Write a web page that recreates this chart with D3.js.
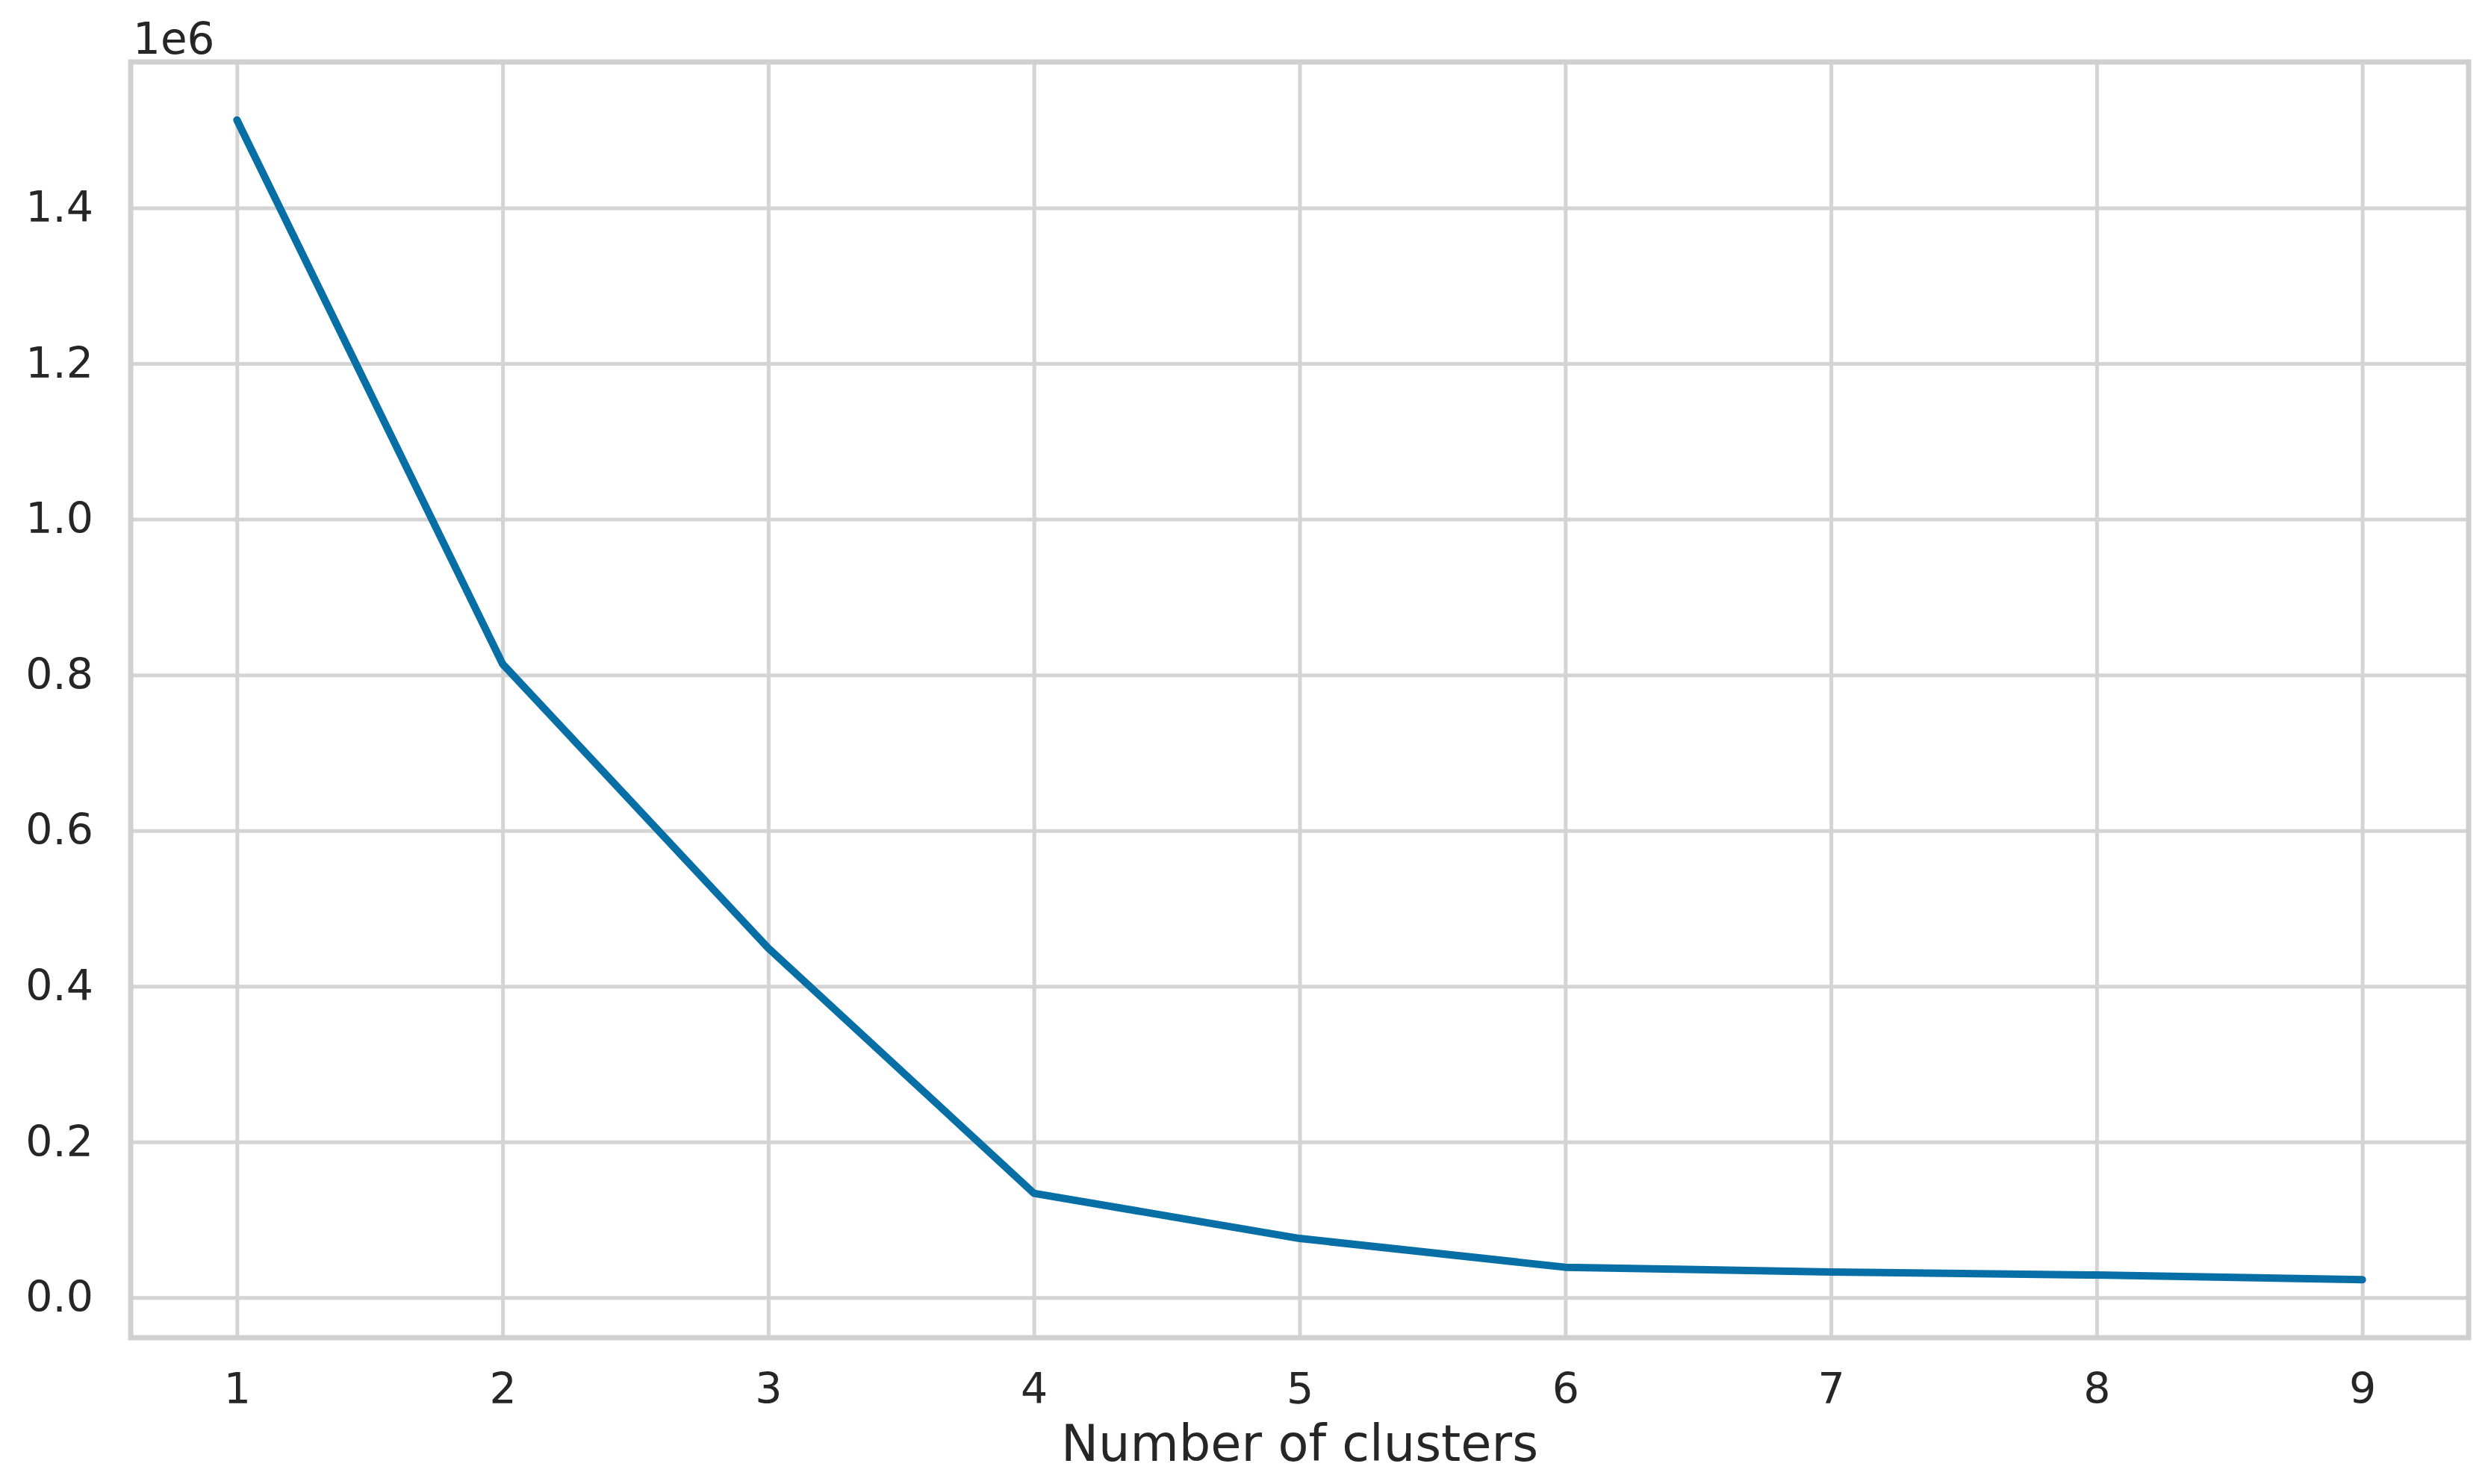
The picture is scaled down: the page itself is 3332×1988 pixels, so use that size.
<!DOCTYPE html>
<head>
  <meta charset="utf-8">
  <script src="https://d3js.org/d3.v7.min.js"></script>
  <style>
    body { margin:0; background:#fff; }
    svg { display:block; }
    text { font-family:"DejaVu Sans", sans-serif; fill:#262626; }
    .grid line { stroke:#d4d4d4; stroke-width:5; }
  </style>
</head>

<body>
  <script>
    // elbow curve: inertia per number of clusters
    var clusters = [1, 2, 3, 4, 5, 6, 7, 8, 9],
        inertia = [1513000, 814000, 449000, 134000, 76000, 39000, 33000, 29000, 23000],
        yTicks = [0, 200000, 400000, 600000, 800000, 1000000, 1200000, 1400000],
        xLabel = "Number of clusters",
        offsetLabel = "1e6";

    var width = 3332, height = 1988,
        plotLeft = 175, plotRight = 3306, plotTop = 83, plotBottom = 1792;

    var svg = d3.select("body").append("svg")
        .attr("width", width)
        .attr("height", height);

    // 5% margins on both axes, like matplotlib
    var xpad = (d3.max(clusters) - d3.min(clusters)) * 0.05,
        ypad = (d3.max(inertia) - d3.min(inertia)) * 0.05;

    var x = d3.scaleLinear()
        .domain([d3.min(clusters) - xpad, d3.max(clusters) + xpad])
        .range([plotLeft, plotRight]);

    var y = d3.scaleLinear()
        .domain([d3.min(inertia) - ypad, d3.max(inertia) + ypad])
        .range([plotBottom, plotTop]);

    var gx = svg.append("g")
        .attr("class", "grid")
        .attr("transform", "translate(0," + plotBottom + ")")
        .call(d3.axisBottom(x)
          .tickValues(clusters)
          .tickFormat(d3.format("d"))
          .tickSize(-(plotBottom - plotTop)));

    var gy = svg.append("g")
        .attr("class", "grid")
        .attr("transform", "translate(" + plotLeft + ",0)")
        .call(d3.axisLeft(y)
          .tickValues(yTicks)
          .tickFormat(function(d) { return (d / 1e6).toFixed(1); })
          .tickSize(-(plotRight - plotLeft))
          .tickPadding(50));

    svg.selectAll(".grid .domain").remove();
    svg.selectAll(".grid text")
        .attr("font-size", 57)
        .attr("fill", "#262626");

    // x tick labels: baseline ~88px under the frame
    gx.selectAll("text")
        .attr("y", 88)
        .attr("dy", null);

    // frame
    svg.append("rect")
        .attr("x", plotLeft)
        .attr("y", plotTop)
        .attr("width", plotRight - plotLeft)
        .attr("height", plotBottom - plotTop)
        .attr("fill", "none")
        .attr("stroke", "#d0d0d0")
        .attr("stroke-width", 7);

    var line = d3.line()
        .x(function(d, i) { return x(clusters[i]); })
        .y(function(d) { return y(d); });

    svg.append("path")
        .datum(inertia)
        .attr("d", line)
        .attr("fill", "none")
        .attr("stroke", "#076fa6")
        .attr("stroke-width", 10)
        .attr("stroke-linejoin", "round")
        .attr("stroke-linecap", "round");

    svg.append("text")
        .attr("x", (plotLeft + plotRight) / 2)
        .attr("y", 1957)
        .attr("text-anchor", "middle")
        .attr("font-size", 67)
        .text(xLabel);

    svg.append("text")
        .attr("x", 178)
        .attr("y", 72)
        .attr("font-size", 58)
        .text(offsetLabel);
  </script>
</body>

</html>
